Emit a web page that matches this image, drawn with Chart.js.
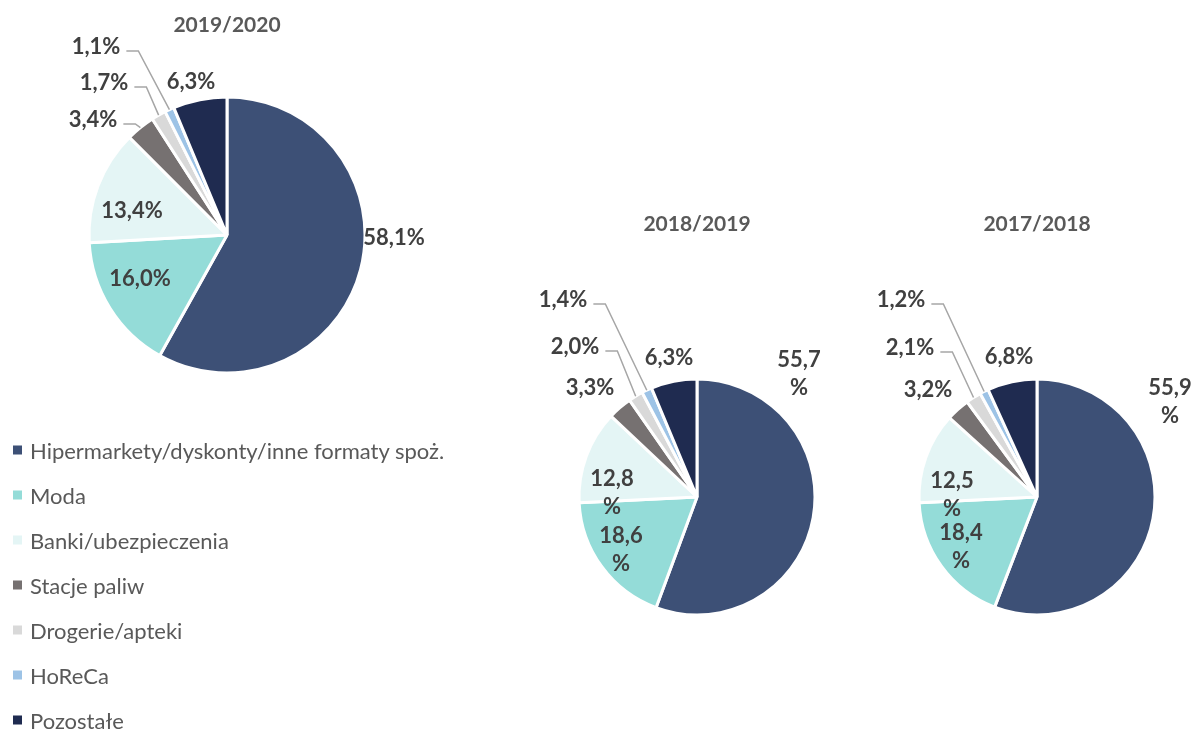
<!DOCTYPE html>
<html lang="pl">
<head>
<meta charset="utf-8">
<script src="https://cdn.jsdelivr.net/npm/chart.js@4"></script>
<style>
  body { margin: 0; background: #fff; font-family: Lato, sans-serif; }
  #wrap { position: relative; width: 1193px; height: 729px; overflow: hidden; }
  canvas { position: absolute; left: 0; top: 0; }
  .title { position: absolute; transform: translate(-50%, -50%); font-weight: bold; font-size: 21px; color: #595959; white-space: nowrap; }
  .item { position: absolute; left: 13px; transform: translateY(-50%); display: flex; align-items: center; white-space: nowrap; font-size: 22px; color: #595959; }
  .box { width: 9px; height: 9px; margin-right: 8px; }
</style>
</head>
<body>
<div id="wrap"></div>
<script>
// dane
const categories = ['Hipermarkety/dyskonty/inne formaty spoż.', 'Moda', 'Banki/ubezpieczenia', 'Stacje paliw', 'Drogerie/apteki', 'HoReCa', 'Pozostałe'];
const seasons = ['2019/2020', '2018/2019', '2017/2018'];
const share2019_2020 = [58.1, 16.0, 13.4, 3.4, 1.7, 1.1, 6.3];
const share2018_2019 = [55.7, 18.6, 12.8, 3.3, 2.0, 1.4, 6.3];
const share2017_2018 = [55.9, 18.4, 12.5, 3.2, 2.1, 1.2, 6.8];
const colors = ['#3d5076', '#94dcd8', '#e4f5f5', '#767171', '#d9d9d9', '#9dc3e6', '#1f2b50'];

// układ: środek, promień, położenie etykiet (względem środka)
const pies = [
  { values: share2019_2020, cx: 227, cy: 235, r: 138, titleY: 23, labels: [
    { dx: 167, dy: 3 }, { dx: -87, dy: 44 }, { dx: -95, dy: -24 },
    { dx: -134, dy: -115, leader: true }, { dx: -123, dy: -152, leader: true },
    { dx: -131, dy: -188, leader: true }, { dx: -36, dy: -153 } ] },
  { values: share2018_2019, cx: 697, cy: 497, r: 118, titleY: 222, labels: [
    { dx: 102, dy: -123, wrap: true }, { dx: -76, dy: 53, wrap: true }, { dx: -85, dy: -4, wrap: true },
    { dx: -107, dy: -109 }, { dx: -122, dy: -150, leader: true },
    { dx: -134, dy: -197, leader: true }, { dx: -28, dy: -139 } ] },
  { values: share2017_2018, cx: 1037, cy: 497, r: 118, titleY: 222, labels: [
    { dx: 133, dy: -95, wrap: true }, { dx: -76, dy: 50, wrap: true }, { dx: -85, dy: -2, wrap: true },
    { dx: -109, dy: -107 }, { dx: -127, dy: -149, leader: true },
    { dx: -136, dy: -197, leader: true }, { dx: -28, dy: -140 } ] }
];

const W = 1193, H = 729;

const sliceLabels = {
  id: 'sliceLabels',
  afterDatasetsDraw(chart, args, opts) {
    const ctx = chart.ctx;
    const meta = chart.getDatasetMeta(0);
    const values = chart.data.datasets[0].data;
    ctx.save();
    ctx.font = 'bold 22px Lato';
    ctx.fillStyle = '#404040';
    ctx.strokeStyle = '#a6a6a6';
    ctx.lineWidth = 1.5;
    ctx.textAlign = 'center';
    ctx.textBaseline = 'middle';
    meta.data.forEach((arc, i) => {
      const p = arc.getProps(['x', 'y', 'startAngle', 'endAngle', 'outerRadius'], true);
      const L = opts.labels[i];
      const tx = p.x + L.dx, ty = p.y + L.dy;
      const txt = values[i].toFixed(1).replace('.', ',');
      if (L.wrap) {
        ctx.fillText(txt, tx, ty - 14);
        ctx.fillText('%', tx, ty + 14);
      } else {
        ctx.fillText(txt + '%', tx, ty);
      }
      if (L.leader) {
        const w = ctx.measureText(txt + '%').width;
        const mid = (p.startAngle + p.endAngle) / 2;
        const ex = p.x + p.outerRadius * Math.cos(mid);
        const ey = p.y + p.outerRadius * Math.sin(mid);
        const sx = tx + w / 2 + 6, sy = ty + 4;
        ctx.beginPath();
        ctx.moveTo(sx, sy);
        ctx.lineTo(sx + 12, sy);
        ctx.lineTo(ex, ey);
        ctx.stroke();
      }
    });
    ctx.restore();
  }
};

function build() {
  const wrap = document.getElementById('wrap');
  pies.forEach((pie, k) => {
    const canvas = document.createElement('canvas');
    canvas.width = W; canvas.height = H;
    wrap.appendChild(canvas);

    const t = document.createElement('div');
    t.className = 'title';
    t.textContent = seasons[k];
    t.style.left = pie.cx + 'px';
    t.style.top = pie.titleY + 'px';
    wrap.appendChild(t);

    new Chart(canvas, {
      type: 'pie',
      data: {
        labels: categories,
        datasets: [{
          data: pie.values,
          backgroundColor: colors,
          borderColor: '#ffffff',
          borderWidth: 3
        }]
      },
      options: {
        responsive: false,
        animation: false,
        radius: pie.r,
        layout: { padding: { left: pie.cx - 100, right: W - pie.cx - 100, top: pie.cy - 100, bottom: H - pie.cy - 100 } },
        plugins: {
          legend: { display: false },
          tooltip: { enabled: false },
          sliceLabels: { labels: pie.labels }
        }
      },
      plugins: [sliceLabels]
    });
  });

  categories.forEach((name, i) => {
    const it = document.createElement('div');
    it.className = 'item';
    it.style.top = (450 + i * 45) + 'px';
    it.innerHTML = '<span class="box" style="background:' + colors[i] + '"></span>';
    it.appendChild(document.createTextNode(name));
    wrap.appendChild(it);
  });
}

document.fonts.load('bold 22px Lato').then(build, build);
</script>
</body>
</html>
